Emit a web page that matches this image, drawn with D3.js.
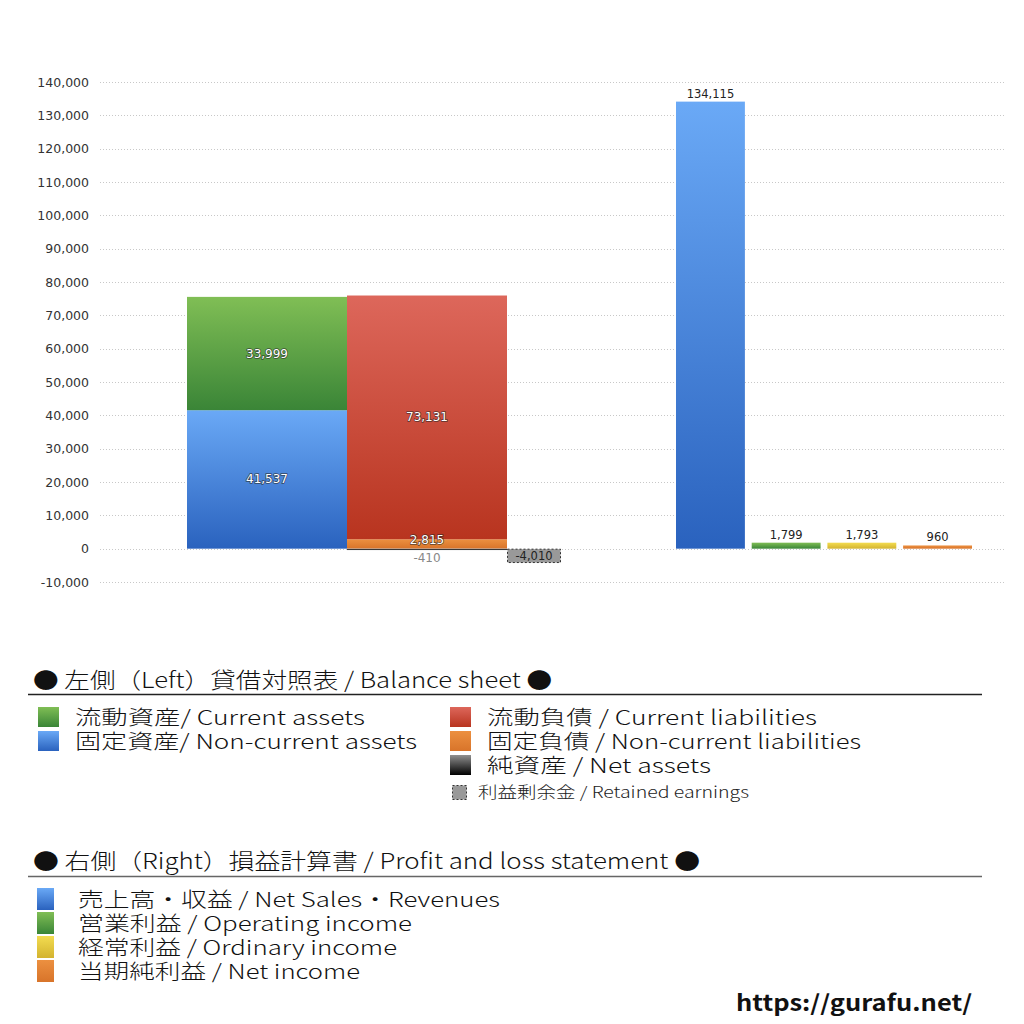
<!DOCTYPE html>
<html lang="ja">
<head>
<meta charset="UTF-8">
<title>貸借対照表 / 損益計算書</title>
<script src="https://d3js.org/d3.v7.min.js"></script>
<style>
  body { margin: 0; background: #fff; }
  svg text { font-family: "Noto Sans CJK JP", "Noto Sans", sans-serif; font-weight: 300; }
  svg text.num { font-family: "DejaVu Sans", "Liberation Sans", sans-serif; font-weight: normal; }
</style>
</head>
<body>
<svg id="chart" width="1024" height="1024"></svg>
<script>
// --- data ---
var yTicks = [-10000, 0, 10000, 20000, 30000, 40000, 50000, 60000, 70000, 80000, 90000, 100000, 110000, 120000, 130000, 140000];

// balance sheet columns
var bsColumns = ["assets", "liabilities"];
var assetParts = [
  { key: "noncurrentAssets", value: 41537, grad: "gBlue" },
  { key: "currentAssets", value: 33999, grad: "gGreen" }
];
var liabilityParts = [
  { key: "noncurrentLiabilities", value: 2815, grad: "gOrange" },
  { key: "currentLiabilities", value: 73131, grad: "gRed" }
];
var netAssets = -410;
var retainedEarnings = -4010;

// profit and loss
var plNames = ["sales", "operating", "ordinary", "net"];
var plValues = [134115, 1799, 1793, 960];
var plGrads = ["gBlue", "gGreen", "gYellow", "gOrange"];

var legendLeft = ["流動資産/ Current assets", "固定資産/ Non-current assets"];
var legendLeftGrads = ["gGreen", "gBlue"];
var legendLeftWidths = [290, 342];
var legendRight = ["流動負債 /  Current liabilities", "固定負債 / Non-current liabilities", "純資産 / Net assets"];
var legendRightGrads = ["gRed", "gOrange", "gBlack"];
var legendRightWidths = [330, 374, 224];
var legendPL = ["売上高・収益 / Net Sales・Revenues", "営業利益 / Operating income", "経常利益 / Ordinary income", "当期純利益 / Net income"];
var legendPLGrads = ["gBlue", "gGreen", "gYellow", "gOrange"];
var legendPLWidths = [422, 334, 319, 282];

var svg = d3.select("#chart");
var fmt = d3.formatLocale({ decimal: ".", thousands: ",", grouping: [3], currency: ["", ""], minus: "-" }).format(",");

// gradients
var gradDefs = [
  ["gBlue", "#6aa9f6", "#2a62be"],
  ["gGreen", "#80be55", "#3a8537"],
  ["gRed", "#dd675b", "#b8341f"],
  ["gOrange", "#ec9040", "#d8742a"],
  ["gYellow", "#f3dc50", "#d3b330"],
  ["gBlack", "#909090", "#000000"]
];
var defs = svg.append("defs");
gradDefs.forEach(function(g) {
  var lg = defs.append("linearGradient").attr("id", g[0])
    .attr("x1", 0).attr("y1", 0).attr("x2", 0).attr("y2", 1);
  lg.append("stop").attr("offset", "0%").attr("stop-color", g[1]);
  lg.append("stop").attr("offset", "100%").attr("stop-color", g[2]);
});

// scales
var y = d3.scaleLinear().domain([-10000, 140000]).range([582, 82]);
var xBS = d3.scaleBand().domain(bsColumns).range([187, 507]).paddingInner(0);
var xPL = d3.scaleBand().domain(plNames).range([676, 972]).paddingInner(0.09).paddingOuter(0);

// grid + y axis
var yAxis = d3.axisLeft(y).tickValues(yTicks).tickFormat(fmt).tickSize(0).tickPadding(0);
var ax = svg.append("g").attr("transform", "translate(89,0)").call(yAxis);
ax.select(".domain").remove();
ax.selectAll("text").attr("class", "num").attr("font-size", 12.5).attr("fill", "#333");

svg.append("g").selectAll("line").data(yTicks).enter().append("line")
  .attr("x1", 100).attr("x2", 1006)
  .attr("y1", function(d) { return Math.round(y(d)) + 0.5; })
  .attr("y2", function(d) { return Math.round(y(d)) + 0.5; })
  .attr("stroke", "#c8c8c8").attr("stroke-width", 1).attr("stroke-dasharray", "1,2");

// stacked helper
function stackParts(parts) {
  var acc = 0;
  return parts.map(function(p) {
    var s = { key: p.key, value: p.value, grad: p.grad, y0: acc, y1: acc + p.value };
    acc += p.value;
    return s;
  });
}
var assetStack = stackParts(assetParts);
var liabStack = stackParts(liabilityParts);

function drawStack(stack, col) {
  svg.append("g").selectAll("rect").data(stack).enter().append("rect")
    .attr("x", xBS(col)).attr("width", xBS.bandwidth())
    .attr("y", function(d) { return y(d.y1); })
    .attr("height", function(d) { return y(d.y0) - y(d.y1); })
    .attr("fill", function(d) { return "url(#" + d.grad + ")"; });
}
drawStack(assetStack, "assets");
drawStack(liabStack, "liabilities");

// net assets (negative, below zero)
svg.append("rect")
  .attr("x", xBS("liabilities")).attr("width", xBS.bandwidth())
  .attr("y", y(0)).attr("height", y(netAssets) - y(0))
  .attr("fill", "url(#gBlack)");

// retained earnings (dashed box)
svg.append("rect")
  .attr("x", xBS("liabilities") + xBS.bandwidth() + 0.5).attr("width", 53)
  .attr("y", y(0) + 0.5).attr("height", y(retainedEarnings) - y(0))
  .attr("fill", "#999").attr("stroke", "#333").attr("stroke-width", 1)
  .attr("stroke-dasharray", "2,2");

// labels inside bars (white with shadow)
function whiteLabel(x0, yy, txt) {
  svg.append("text").attr("class", "num").attr("x", x0).attr("y", yy).attr("text-anchor", "middle")
    .attr("dominant-baseline", "central").attr("font-size", 12)
    .attr("fill", "#fff").attr("stroke", "rgba(40,40,40,0.7)").attr("stroke-width", 1.5)
    .attr("paint-order", "stroke").text(txt);
}
var cxA = xBS("assets") + xBS.bandwidth() / 2;
var cxL = xBS("liabilities") + xBS.bandwidth() / 2;
assetStack.forEach(function(d) { whiteLabel(cxA, (y(d.y0) + y(d.y1)) / 2, fmt(d.value)); });
liabStack.forEach(function(d) {
  var yy = (y(d.y0) + y(d.y1)) / 2;
  if (d.value < 10000) yy = y(d.y1) + 1;
  whiteLabel(cxL, yy, fmt(d.value));
});
svg.append("text").attr("class", "num").attr("x", cxL).attr("y", y(0) + 9.5).attr("text-anchor", "middle")
  .attr("dominant-baseline", "central").attr("font-size", 12).attr("fill", "#888")
  .text(fmt(netAssets));
svg.append("text").attr("class", "num").attr("x", xBS("liabilities") + xBS.bandwidth() + 27).attr("y", y(0) + 7.5)
  .attr("text-anchor", "middle").attr("dominant-baseline", "central")
  .attr("font-size", 11.5).attr("fill", "#222").text(fmt(retainedEarnings));

// P&L bars
svg.append("g").selectAll("rect").data(plValues).enter().append("rect")
  .attr("x", function(d, i) { return xPL(plNames[i]); })
  .attr("width", xPL.bandwidth())
  .attr("y", function(d) { return y(d); })
  .attr("height", function(d) { return y(0) - y(d); })
  .attr("fill", function(d, i) { return "url(#" + plGrads[i] + ")"; });
svg.append("g").selectAll("text").data(plValues).enter().append("text")
  .attr("class", "num")
  .attr("x", function(d, i) { return xPL(plNames[i]) + xPL.bandwidth() / 2; })
  .attr("y", function(d) { return y(d) - 8; })
  .attr("text-anchor", "middle").attr("dominant-baseline", "central")
  .attr("font-size", 11.5).attr("fill", "#222")
  .text(function(d) { return fmt(d); });

// --- legends ---
function heading(txt, yy, w, lineY, lineColor) {
  svg.append("text").attr("x", 33).attr("y", yy).attr("font-size", 22).attr("fill", "#111")
    .attr("textLength", w).attr("lengthAdjust", "spacingAndGlyphs").text(txt);
  svg.append("line").attr("x1", 28).attr("x2", 982).attr("y1", lineY).attr("y2", lineY)
    .attr("stroke", lineColor).attr("stroke-width", 1.3);
}
heading("● 左側（Left）貸借対照表 / Balance sheet ●", 688, 519, 694.5, "#222");
heading("● 右側（Right）損益計算書 / Profit and loss statement ●", 869, 667, 876.5, "#666");

// one multi-line text block per legend column, a swatch beside each line
function legendBlock(labels, grads, widths, sx, sw, sh, tx, yTop, fs) {
  svg.append("g").selectAll("rect").data(grads).enter().append("rect")
    .attr("x", sx).attr("y", function(d, i) { return yTop + i * 24 - sh / 2; })
    .attr("width", sw).attr("height", sh)
    .attr("fill", function(d) { return "url(#" + d + ")"; });
  var t = svg.append("text").attr("font-size", fs).attr("fill", "#111");
  labels.forEach(function(s, i) {
    t.append("tspan").attr("x", tx).attr("y", yTop + i * 24 + 7.5)
      .attr("textLength", widths[i]).attr("lengthAdjust", "spacingAndGlyphs").text(s);
  });
}
legendBlock(legendLeft, legendLeftGrads, legendLeftWidths, 38, 21, 20, 75, 717, 20.5);
legendBlock(legendRight, legendRightGrads, legendRightWidths, 450, 21, 20, 487, 717, 20.5);
legendBlock(legendPL, legendPLGrads, legendPLWidths, 37, 17, 22, 78, 899, 20);

svg.append("rect").attr("x", 452.5).attr("y", 785.5).attr("width", 14).attr("height", 14)
  .attr("fill", "#999").attr("stroke", "#333").attr("stroke-dasharray", "2,2");
svg.append("text").attr("x", 478).attr("y", 798).attr("font-size", 15.5).attr("fill", "#222")
  .attr("textLength", 271).attr("lengthAdjust", "spacingAndGlyphs").text("利益剰余金 / Retained earnings");

svg.append("text").attr("x", 736).attr("y", 1011).attr("font-size", 22)
  .style("font-weight", "bold")
  .attr("fill", "#111").attr("textLength", 236).attr("lengthAdjust", "spacingAndGlyphs")
  .text("https://gurafu.net/");
</script>
</body>
</html>
